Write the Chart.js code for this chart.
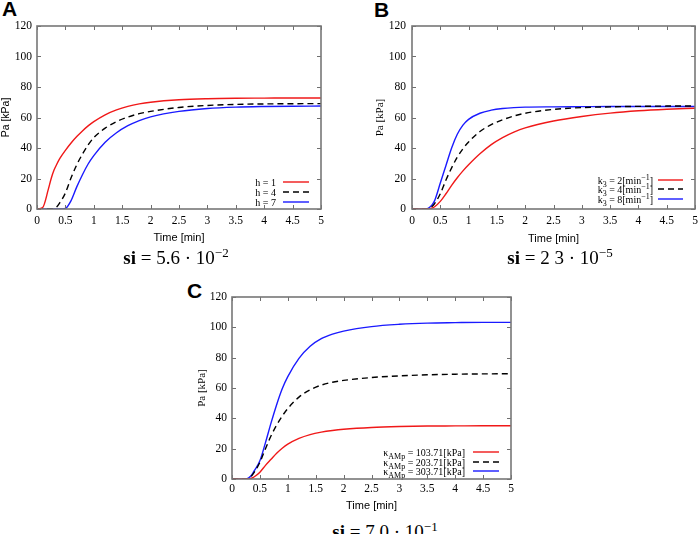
<!DOCTYPE html>
<html>
<head>
<meta charset="utf-8">
<script src="https://cdn.jsdelivr.net/npm/chart.js@4.4.1/dist/chart.umd.min.js"></script>
<style>
  body { margin: 0; background: #fff; width: 699px; height: 534px; position: relative; overflow: hidden; }
  canvas { position: absolute; }
  .letter { position: absolute; font: bold 21px "Liberation Sans", Arial, sans-serif; line-height: 21px; }
  .si { position: absolute; font: 19px "Liberation Serif", serif; line-height: 19px; white-space: nowrap; transform: translateX(-50%); }
  .si sup { font-size: 13px; line-height: 0; vertical-align: 7px; }
</style>
</head>
<body>
<div class="letter" style="left:2px;top:-2px">A</div>
<div class="letter" style="left:374px;top:-1px">B</div>
<div class="letter" style="left:187px;top:280px">C</div>

<canvas id="chartA" width="335" height="250" style="left:0;top:0"></canvas>
<canvas id="chartB" width="349" height="250" style="left:350px;top:0"></canvas>
<canvas id="chartC" width="340" height="245" style="left:180px;top:270px"></canvas>

<div class="si" style="left:176px;top:248px"><b>si</b> = 5.6 · 10<sup>−2</sup></div>
<div class="si" style="left:560px;top:248px"><b>si</b> = 2 3 · 10<sup>−5</sup></div>
<div class="si" style="left:385px;top:522px"><b>si</b> = 7.0 · 10<sup>−1</sup></div>

<script>
// time axis shared by all three panels [min]
const times = [0, 0.1, 0.2, 0.25, 0.3, 0.35, 0.4, 0.5, 0.6, 0.7, 0.8, 0.9, 1.0,
               1.2, 1.4, 1.6, 1.8, 2.0, 2.5, 3.0, 3.5, 4.0, 4.5, 5.0];

// panel A : Pa [kPa] for h = 1, 4, 7
const paH1 = [0, 1.0, 13, 20, 25.5, 29.5, 33, 38.5, 43.3, 47.5, 51.2, 54.5, 57.3,
              61.8, 65, 67.3, 68.9, 70, 71.6, 72.3, 72.6, 72.7, 72.8, 72.8];
const paH4 = [0, 0, 0, 0, 0.3, 1.5, 4, 10.5, 20.5, 29, 36, 42, 46.8,
              53, 57.3, 60.3, 62.5, 64, 66.6, 67.9, 68.6, 68.9, 69.05, 69.1];
const paH7 = [0, 0, 0, 0, 0, 0, 0, 0.4, 5.5, 14.5, 22.5, 29.5, 35,
              43.8, 50, 54.6, 58, 60.4, 64, 65.9, 66.8, 67.2, 67.4, 67.5];

// panel B : Pa [kPa] for k3 = 2, 4, 8 [1/min]
const paK2 = [0, 0, 0, 0, 0, 0.5, 1.5, 5, 10, 15.5, 20.5, 25, 29,
              36.2, 42.2, 46.8, 50.4, 53.2, 57.7, 60.7, 62.9, 64.4, 65.4, 66.1];
const paK4 = [0, 0, 0, 0, 0.4, 1.5, 3.5, 10, 19, 27, 34, 39.5, 44,
              50.8, 55.3, 58.5, 61, 62.8, 65.3, 66.5, 67, 67.3, 67.5, 67.6];
const paK8 = [0, 0, 0, 0, 0.8, 2.5, 5.5, 17, 28.5, 40, 49, 55, 58.8,
              62.8, 64.8, 65.9, 66.5, 66.8, 67, 67.1, 67.2, 67.2, 67.2, 67.2];

// panel C : Pa [kPa] for kappa_AMp = 103.71, 203.71, 303.71 [kPa]
const paKap1 = [0, 0, 0, 0, 0, 0.5, 1.5, 4.5, 9, 13, 17, 20.3, 23,
                26.8, 29.3, 30.9, 32, 32.8, 34, 34.6, 34.9, 35, 35.1, 35.1];
const paKap2 = [0, 0, 0, 0, 0.5, 2, 4.5, 11, 20, 28.5, 35.5, 41.5, 46.5,
                54, 58.8, 61.9, 63.8, 65, 66.9, 68, 68.7, 69.1, 69.3, 69.4];
const paKap3 = [0, 0, 0, 0, 0.8, 2.5, 5.5, 12, 24, 37, 49, 59.5, 67.5,
                79.5, 87.5, 92.5, 95.5, 97.5, 100.5, 102, 102.8, 103.1, 103.3, 103.3];

const labelsA = ['h = 1', 'h = 4', 'h = 7'];
const labelsB = ['k_{3} = 2[min^{−1}]', 'k_{3} = 4[min^{−1}]', 'k_{3} = 8[min^{−1}]'];
const labelsC = ['κ_{AMp} = 103.71[kPa]', 'κ_{AMp} = 203.71[kPa]', 'κ_{AMp} = 303.71[kPa]'];

const RED = '#f01818', BLACK = '#000', BLUE = '#1a1aff';
const SERIF = '"Liberation Serif", "Times New Roman", serif';
const SANS = '"Liberation Sans", Arial, sans-serif';

function pts(ys) { return times.map((t, i) => ({x: t, y: ys[i]})); }

function line(label, ys, color, dash) {
  return {
    label, data: pts(ys), borderColor: color, borderWidth: 1.4,
    borderDash: dash ? [6, 4] : [], pointRadius: 0, fill: false,
    cubicInterpolationMode: 'monotone'
  };
}

// split "k_{3} = 2[min^{-1}]" into plain / sub / sup pieces
function richParts(s) {
  return s.split(/(_\{[^}]*\}|\^\{[^}]*\})/).filter(Boolean).map(p => {
    if (p.startsWith('_{')) return {t: p.slice(2, -1), mode: 'sub'};
    if (p.startsWith('^{')) return {t: p.slice(2, -1), mode: 'sup'};
    return {t: p, mode: ''};
  });
}

// gnuplot-ish frame : grey box, ticks pointing inwards on all four sides
const framePlugin = {
  id: 'frame',
  afterDraw(chart) {
    const {ctx, chartArea: a, scales} = chart;
    ctx.save();
    ctx.strokeStyle = '#6e6e6e';
    ctx.lineWidth = 1;
    const tl = 4;
    ctx.beginPath();
    scales.x.ticks.forEach(t => {
      const px = Math.round(scales.x.getPixelForValue(t.value)) + 0.5;
      ctx.moveTo(px, a.bottom); ctx.lineTo(px, a.bottom - tl);
      ctx.moveTo(px, a.top); ctx.lineTo(px, a.top + tl);
    });
    scales.y.ticks.forEach(t => {
      const py = Math.round(scales.y.getPixelForValue(t.value)) + 0.5;
      ctx.moveTo(a.left, py); ctx.lineTo(a.left + tl, py);
      ctx.moveTo(a.right, py); ctx.lineTo(a.right - tl, py);
    });
    ctx.stroke();
    ctx.strokeStyle = '#777';
    ctx.lineWidth = 1.6;
    ctx.strokeRect(a.left, a.top, a.right - a.left, a.bottom - a.top);
    ctx.restore();
  }
};

// key in the lower right corner: text right-aligned, then a line sample
const keyPlugin = {
  id: 'key',
  afterDatasetsDraw(chart, args, opts) {
    const {ctx, chartArea: a} = chart;
    ctx.save();
    chart.data.datasets.forEach((ds, i) => {
      const y = a.bottom - opts.rows[i];
      const parts = richParts(ds.label);
      const fontFor = m => (m ? 8 : 10) + 'px ' + SERIF;
      let w = 0;
      parts.forEach(p => { ctx.font = fontFor(p.mode); w += ctx.measureText(p.t).width; });
      let x = a.right - opts.textRight - w;
      ctx.fillStyle = '#000';
      ctx.textBaseline = 'alphabetic';
      parts.forEach(p => {
        ctx.font = fontFor(p.mode);
        const dy = p.mode === 'sub' ? 3 : p.mode === 'sup' ? -4 : 0;
        ctx.fillText(p.t, x, y + 3.5 + dy);
        x += ctx.measureText(p.t).width;
      });
      ctx.strokeStyle = ds.borderColor;
      ctx.lineWidth = 1.4;
      ctx.setLineDash(ds.borderDash);
      ctx.beginPath();
      ctx.moveTo(a.right - opts.lineFrom, y);
      ctx.lineTo(a.right - opts.lineTo, y);
      ctx.stroke();
      ctx.setLineDash([]);
    });
    ctx.restore();
  }
};

function makeChart(id, datasets, p) {
  return new Chart(document.getElementById(id), {
    type: 'line',
    data: {datasets},
    options: {
      responsive: false,
      animation: false,
      layout: {padding: {top: p.top, right: p.right, left: 0, bottom: 0}},
      plugins: {
        legend: {display: false},
        tooltip: {enabled: false},
        key: p.key
      },
      scales: {
        x: {
          type: 'linear', min: 0, max: 5,
          grid: {display: false, drawTicks: false},
          border: {display: false},
          ticks: {stepSize: 0.5, color: '#000', padding: p.xPad, maxRotation: 0,
                  font: {family: SERIF, size: 11.5},
                  callback: v => String(Math.round(v * 10) / 10)},
          title: {display: true, text: 'Time [min]', color: '#000',
                  font: {family: SANS, size: 11}, padding: {top: 0, bottom: p.xTitlePad}},
          afterFit(s) { s.height = p.xHeight; s.paddingLeft = 0; s.paddingRight = 0; }
        },
        y: {
          min: 0, max: 120,
          grid: {display: false, drawTicks: false},
          border: {display: false},
          ticks: {stepSize: 20, color: '#000', padding: p.yPad,
                  font: {family: SERIF, size: 11.5}},
          title: {display: true, text: 'Pa [kPa]', color: '#000',
                  font: {family: p.yTitleFont, size: p.yTitleSize}, padding: {top: p.yTitlePad, bottom: 0}},
          afterFit(s) { s.width = p.yWidth; }
        }
      }
    },
    plugins: [framePlugin, keyPlugin]
  });
}

makeChart('chartA', [
  line(labelsA[0], paH1, RED, false),
  line(labelsA[1], paH4, BLACK, true),
  line(labelsA[2], paH7, BLUE, false)
], {top: 26, right: 14, yWidth: 37, xHeight: 41, xPad: 5, yPad: 5, xTitlePad: 5,
    yTitleFont: SANS, yTitleSize: 10.5, yTitlePad: 0,
    key: {rows: [27, 17, 7], textRight: 45, lineFrom: 38, lineTo: 12}});

makeChart('chartB', [
  line(labelsB[0], paK2, RED, false),
  line(labelsB[1], paK4, BLACK, true),
  line(labelsB[2], paK8, BLUE, false)
], {top: 26, right: 4, yWidth: 62, xHeight: 41, xPad: 5, yPad: 6, xTitlePad: 4,
    yTitleFont: SERIF, yTitleSize: 11, yTitlePad: 24,
    key: {rows: [29, 20, 10], textRight: 42, lineFrom: 37, lineTo: 12}});

makeChart('chartC', [
  line(labelsC[0], paKap1, RED, false),
  line(labelsC[1], paKap2, BLACK, true),
  line(labelsC[2], paKap3, BLUE, false)
], {top: 27, right: 9, yWidth: 52, xHeight: 36, xPad: 3, yPad: 5, xTitlePad: 2,
    yTitleFont: SERIF, yTitleSize: 11, yTitlePad: 16,
    key: {rows: [27, 17, 8], textRight: 46, lineFrom: 38, lineTo: 12}});
</script>
</body>
</html>
